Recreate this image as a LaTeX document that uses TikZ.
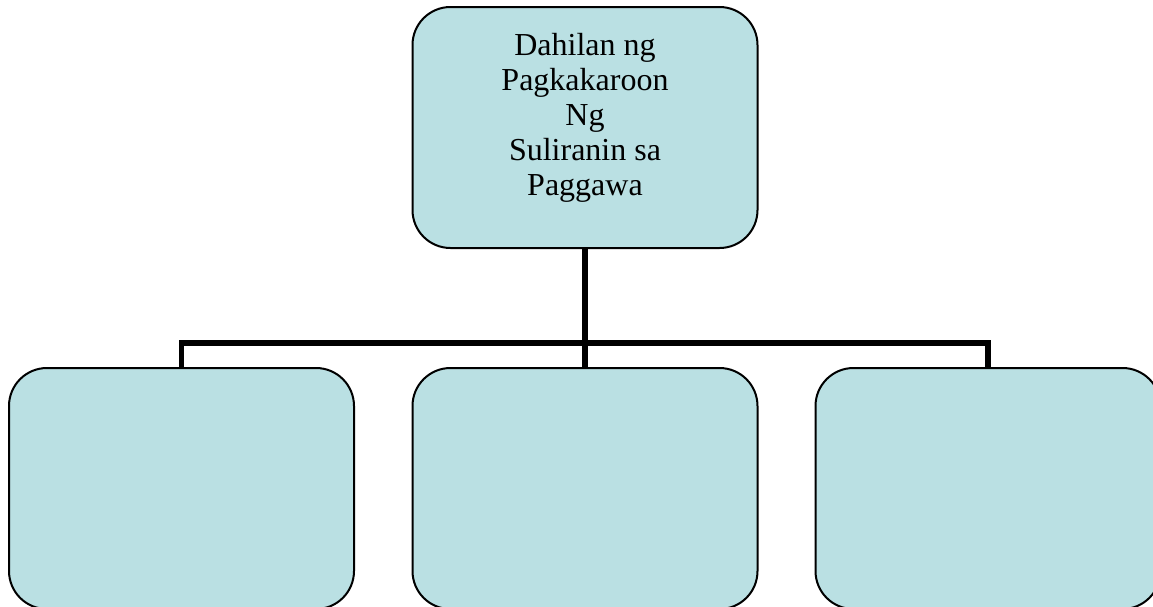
\documentclass[tikz,border=0pt]{standalone}
\usepackage{fontspec}
\setmainfont{Liberation Serif}
\definecolor{boxfill}{RGB}{186,224,227}
\tikzset{
  orgbox/.style={draw=black, line width=2pt, fill=boxfill, rounded corners=38pt,
    rectangle, minimum width=345pt, minimum height=241pt, inner sep=0pt},
  boxtext/.style={align=center, font=\fontsize{32pt}{35pt}\selectfont, inner sep=0pt},
  conn/.style={draw=black, line width=5.5pt}
}
\begin{document}
\begin{tikzpicture}[x=1pt,y=-1pt]
\useasboundingbox (0,0) rectangle (1153,606);
\clip (0,0) rectangle (1153,606);
\node[orgbox] (top) at (585,127.5) {};
\node[orgbox] (left) at (181.5,488.5) {};
\node[orgbox] (mid) at (585,488.5) {};
\node[orgbox] (right) at (988,488.5) {};
\coordinate (j) at (585,343);
\draw[conn] (top.south) -- (j);
\draw[conn] (left.north) |- (j) -| (right.north);
\draw[conn] (j) -- (mid.north);
\node[boxtext] (toptext) at (585,118) {Dahilan ng\\Pagkakaroon\\Ng\\Suliranin sa\\Paggawa};
\end{tikzpicture}
\end{document}
